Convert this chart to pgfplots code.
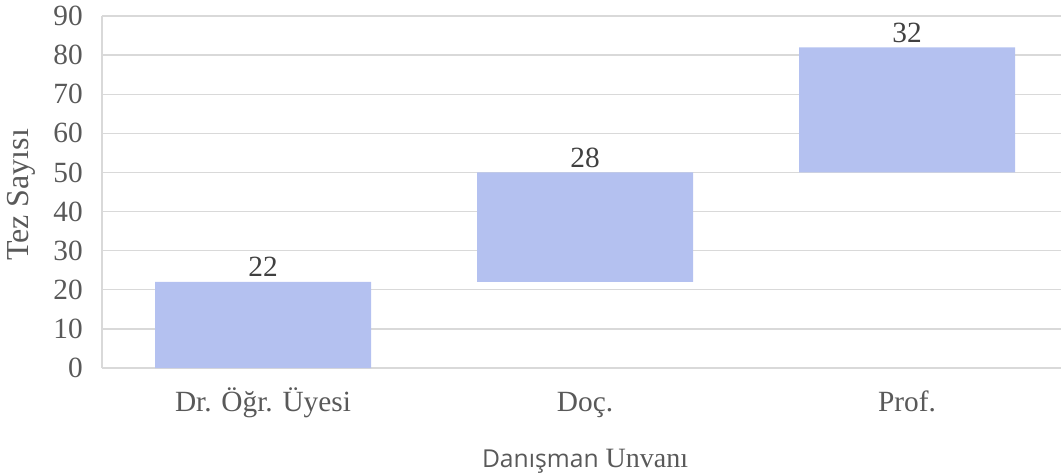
\documentclass[border=0pt]{standalone}
\usepackage{fontspec}
\setmainfont{Liberation Serif}
\newfontfamily\osans{Open Sans}
\usepackage{pgfplots}
\pgfplotsset{compat=1.18}
\definecolor{barblue}{HTML}{B4C1F0}
\definecolor{gridgray}{HTML}{D9D9D9}
\definecolor{ticktext}{HTML}{595959}
\definecolor{labeltext}{HTML}{404040}
\begin{document}
\begin{tikzpicture}
\begin{axis}[
    at={(0,0)}, anchor=south west,
    scale only axis,
    width=719.25pt, height=264pt,
    xmin=-0.5, xmax=2.478,
    ymin=0, ymax=90,
    ybar stacked,
    stacked ignores zero=false,
    bar width=162pt,
    axis x line=bottom, axis y line=left,
    axis line style={draw=gridgray, line width=1pt, -},
    ymajorgrids,
    grid style={draw=gridgray, line width=1pt},
    major tick length=0pt,
    xtick={0,1,2},
    xticklabels={Dr. Öğr. Üyesi, Doç., Prof.},
    ytick={0,10,...,90},
    /pgf/number format/assume math mode=true,
    tick label style={font=\fontsize{22}{26}\selectfont, text=ticktext, inner sep=0pt},
    xticklabel style={anchor=base, yshift=-32.25pt},
    yticklabel style={anchor=east, xshift=-14.25pt},
    xlabel={{\osans\fontsize{18.5}{22}\selectfont Danışman} Unvanı},
    ylabel={Tez Sayısı},
    every axis x label/.style={at={(axis cs:1,0)}, anchor=base, yshift=-74.25pt,
        font=\fontsize{21}{25}\selectfont, text=ticktext, inner sep=0pt},
    every axis y label/.style={at={([xshift=-54.75pt,yshift=-2.25pt]rel axis cs:0,0.5)},
        rotate=90, anchor=base,
        font=\fontsize{24}{28}\selectfont, text=ticktext, inner sep=0pt},
    clip=false,
]
% invisible base of the waterfall
\addplot[draw=none, fill=none] coordinates {(0,0) (1,22) (2,50)};
% visible steps
\addplot[fill=barblue, draw=none] coordinates {(0,22) (1,28) (2,32)};
% zero-height series carrying the labels on top of each step
\addplot[draw=none, fill=none,
    nodes near coords, point meta=explicit symbolic,
    every node near coord/.style={anchor=base, inner sep=0pt, yshift=3.75pt,
        font=\fontsize{22}{26}\selectfont, text=labeltext}]
    coordinates {(0,0) [22] (1,0) [28] (2,0) [32]};
\end{axis}
\pgfresetboundingbox
\path (-76.5pt,-80.25pt) rectangle (719.25pt,276pt);
\end{tikzpicture}
\end{document}
